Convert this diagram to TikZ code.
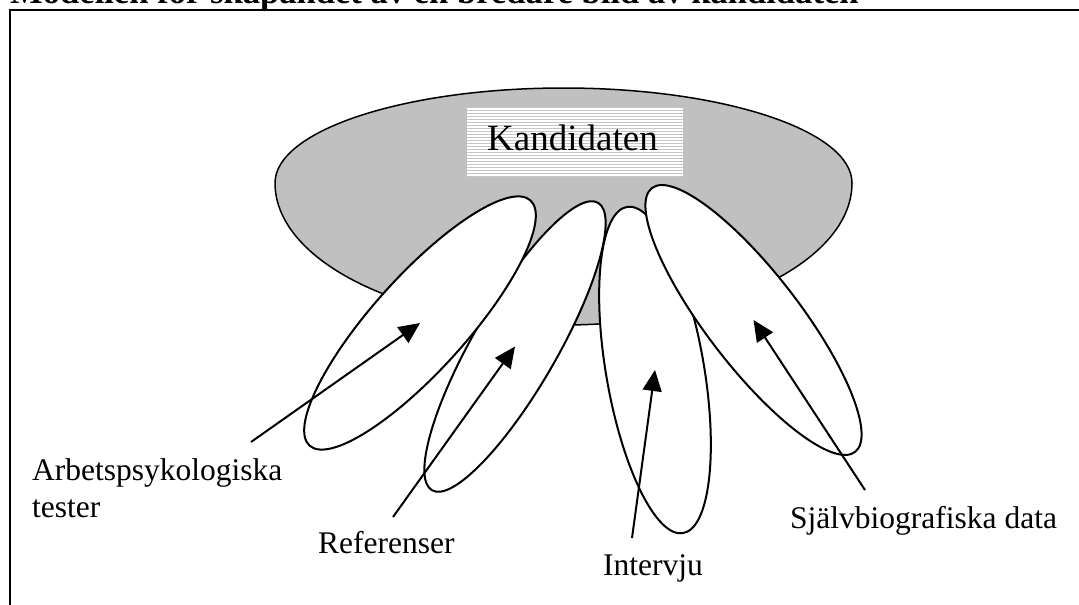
\documentclass[tikz,border=0pt]{standalone}
\usepackage{fontspec}
\setmainfont{Liberation Serif}
\usetikzlibrary{arrows.meta,shapes.geometric}
\definecolor{egggray}{HTML}{C0C0C0}
\definecolor{stripegray}{HTML}{C6C6C6}
\begin{document}
\begin{tikzpicture}[x=1pt,y=-1pt,
  petal/.style={draw, line width=2pt, fill=white, ellipse, inner sep=0pt, outer sep=0pt},
  arr/.style={line width=2pt, -{Triangle[length=21pt,width=19pt]}},
  lab/.style={font=\fontsize{31.5}{37}\selectfont, inner sep=0pt, anchor=base west},
]
\useasboundingbox (0,0) rectangle (1079,605);
\fill[white] (0,0) rectangle (1079,605);
\node[font=\bfseries\fontsize{34.6}{40}\selectfont, inner sep=0pt, anchor=base west] (title) at (10,3.5) {Modellen för skapandet av en bredare bild av kandidaten};
\draw[line width=2pt] (1090,10) -- (10,10) -- (10,620);
% central grey shape
\draw[line width=1.5pt, fill=egggray] (275,183)
  arc[start angle=180, end angle=0, x radius=288.5pt, y radius=95pt]
  arc[start angle=0, end angle=-180, x radius=288.5pt, y radius=142pt] -- cycle;
% Kandidaten box
\node[fill=white, minimum width=216pt, minimum height=69pt, inner sep=0pt] (kbox) at (575,141.5) {};
\begin{scope}
\clip (kbox.south west) rectangle (kbox.north east);
\foreach \yy in {107.5,110.5,...,177} \draw[stripegray, line width=1.3pt] (460,\yy) -- (690,\yy);
\end{scope}
\node[font=\fontsize{37}{44}\selectfont, inner sep=0pt, anchor=base] (ktext) at (572.5,150) {Kandidaten};
% petals
\node[petal, minimum width=332pt, minimum height=84pt, rotate=60] (e2) at (515,346.5) {};
\node[petal, minimum width=330pt, minimum height=94pt, rotate=48] (e1) at (420,323) {};
\node[petal, minimum width=331pt, minimum height=98pt, rotate=99.75] (e3) at (655,370) {};
\node[petal, minimum width=333pt, minimum height=93pt, rotate=127.6] (e4) at (753.5,320) {};
% arrows
\coordinate (s1) at (251,442);
\coordinate (s2) at (393,517);
\coordinate (s3) at (632,538);
\coordinate (s4) at (865,490);
\draw[arr] (s1) -- (e1.center);
\draw[arr] (s2) -- (e2.center);
\draw[arr] (s3) -- (e3.center);
\draw[arr] (s4) -- (e4.center);
% labels
\node[lab] (l1a) at (32,480) {Arbetspsykologiska};
\node[lab] (l1b) at (32,517) {tester};
\node[lab] (l2) at (318,553) {Referenser};
\node[lab] (l3) at (603,575) {Intervju};
\node[lab] (l4) at (790,528) {Självbiografiska data};
\end{tikzpicture}
\end{document}
